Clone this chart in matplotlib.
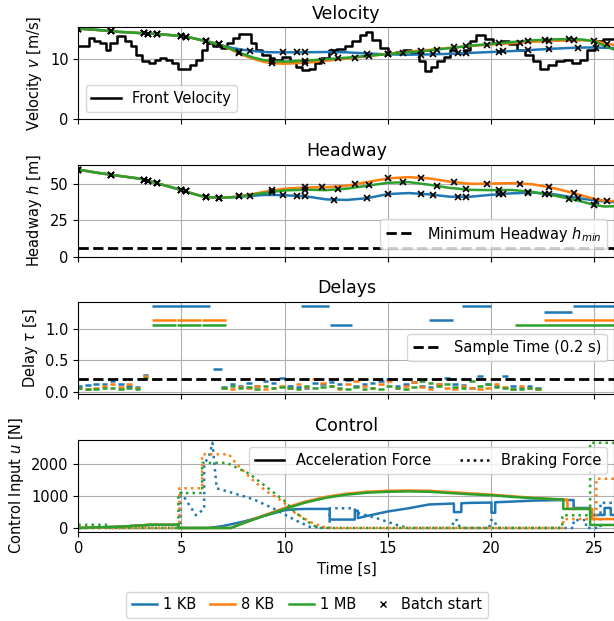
import numpy as np
import matplotlib.pyplot as plt
from matplotlib.lines import Line2D

plt.rcParams['font.size'] = 10.5

# ---- follower curves (velocity, headway), shared time base ----
curve_t = [0, 1, 2, 3, 4, 5, 5.5, 6, 6.5, 7, 7.5, 8, 8.5, 9, 9.5, 10, 11, 12, 13, 14,
           15, 16, 17, 18, 19, 20, 21, 22, 23, 24, 24.5, 25, 25.5, 26]

vel_1kb = [15.05, 14.8, 14.5, 14.3, 14.1, 13.8, 13.5, 13.1, 12.7, 12.2, 11.8, 11.5, 11.3,
           11.15, 11.1, 11.1, 11.1, 11.15, 11.1, 10.9, 10.75, 10.7, 10.75, 10.85, 11.0,
           11.15, 11.3, 11.5, 11.7, 11.85, 11.9, 11.9, 11.85, 11.8]
vel_8kb = [15.05, 14.8, 14.5, 14.3, 14.1, 13.8, 13.5, 13.1, 12.7, 12.2, 11.4, 10.6, 10.0,
           9.5, 9.25, 9.2, 9.35, 9.7, 10.05, 10.45, 10.85, 11.2, 11.5, 11.85, 12.15, 12.4,
           12.6, 12.85, 13.0, 13.1, 13.1, 13.0, 12.6, 12.3]
vel_1mb = [15.05, 14.8, 14.5, 14.3, 14.1, 13.8, 13.5, 13.1, 12.7, 12.2, 11.5, 10.8, 10.2,
           9.8, 9.6, 9.55, 9.7, 9.95, 10.2, 10.5, 10.8, 11.1, 11.4, 11.8, 12.2, 12.5, 12.8,
           13.1, 13.25, 13.3, 13.2, 12.9, 12.2, 11.5]

head_1kb = [59.5, 57.2, 55.2, 53.3, 49.5, 45.5, 43.3, 41.3, 40.5, 40.4, 40.7, 41.2, 41.7,
            42.2, 42.2, 42.0, 41.3, 39.2, 38.8, 40.0, 42.8, 43.5, 42.6, 41.0, 41.0, 42.3,
            43.3, 43.8, 42.8, 40.5, 39.5, 38.5, 37.8, 37.3]
head_8kb = [59.5, 57.2, 55.2, 53.3, 49.5, 45.5, 43.3, 41.3, 40.5, 40.4, 40.8, 41.8, 43.0,
            44.3, 45.5, 46.5, 47.3, 47.5, 48.5, 51.0, 53.5, 54.4, 53.5, 51.3, 49.8, 50.0,
            50.3, 49.5, 47.0, 43.5, 41.5, 39.5, 38.3, 38.0]
head_1mb = [59.5, 57.2, 55.2, 53.3, 49.5, 45.5, 43.3, 41.3, 40.5, 40.4, 40.7, 41.5, 42.5,
            43.5, 44.5, 45.3, 45.8, 45.5, 46.5, 48.5, 50.5, 51.0, 49.2, 47.0, 45.7, 45.5,
            45.6, 44.3, 42.0, 39.0, 37.3, 35.3, 34.3, 34.5]

# batch start times
batch_common = [0, 1.6, 3.2, 3.4, 3.8, 5.0, 5.2, 6.2, 6.8]
batch_1kb = [8.3, 9.9, 10.6, 11.0, 12.4, 14.0, 15.0, 16.6, 17.2, 18.4, 18.8, 20.4, 20.6,
             21.8, 22.8, 24.2, 25.1]
batch_8kb = [7.8, 9.4, 11.0, 11.8, 13.4, 15.0, 16.6, 18.2, 19.8, 21.4, 22.8, 24.0, 25.6]
batch_1mb = [7.8, 9.4, 11.0, 12.6, 14.1, 15.75, 17.4, 18.8, 20.4, 21.8, 22.6, 23.8, 25.0]

# front vehicle velocity (step signal)
front_t = [0, 0.53, 0.76, 1.04, 1.33, 1.56, 1.90, 2.24, 2.56, 2.81, 3.07, 3.42, 3.70, 3.98,
           4.27, 4.55, 4.84, 5.41, 5.69, 5.98, 6.26, 6.55, 6.93, 7.21, 7.50, 7.78, 8.35,
           8.63, 8.92, 9.30, 9.49, 9.87, 10.25, 10.53, 10.82, 11.20, 11.48, 11.76, 12.14,
           12.52, 12.90, 13.28, 13.66, 13.95, 14.23, 14.61, 14.99, 15.37, 15.75, 16.13,
           16.51, 16.79, 17.08, 17.36, 17.74, 18.03, 18.31, 18.69, 18.98, 19.26, 19.73,
           20.11, 20.49, 20.87, 21.25, 21.63, 22.01, 22.39, 22.77, 23.15, 23.53, 23.91,
           24.29, 24.67, 25.05, 25.43, 27.0]
front_v = [12.2, 13.4, 12.9, 12.6, 11.5, 12.6, 13.8, 12.9, 12.1, 10.7, 9.7, 9.3, 9.8, 10.1,
           9.8, 9.3, 8.4, 9.0, 9.8, 11.5, 12.6, 12.1, 11.8, 12.6, 13.5, 14.2, 12.6, 11.5,
           10.7, 10.1, 9.8, 10.4, 9.6, 8.7, 8.1, 8.4, 9.3, 10.1, 11.5, 11.6, 12.1, 12.9,
           13.9, 14.4, 13.2, 11.8, 11.0, 11.2, 11.5, 11.0, 9.6, 8.0, 8.7, 9.6, 10.4, 11.5,
           11.0, 11.5, 12.9, 13.9, 13.3, 12.6, 12.9, 12.4, 11.5, 10.7, 9.6, 8.4, 9.0, 9.6,
           9.8, 9.3, 9.8, 11.5, 12.9, 13.3, 13.3]

h_min = 6.0
sample_time = 0.2

# ---- delays ----
small1_start = -0.1
small2_start = 6.9
slot = 0.4
small1_1kb = [0.10, 0.11, 0.12, 0.13, 0.17, 0.12, 0.09, 0.08, 0.27]
small1_8kb = [0.06, 0.05, 0.06, 0.10, 0.13, 0.08, 0.12, 0.06, 0.25]
small1_1mb = [0.06, 0.05, 0.05, 0.06, 0.07, 0.05, 0.06, 0.05, 0.22]
small2_1kb = [0.08, 0.12, 0.09, 0.14, 0.10, 0.17, 0.14, 0.22, 0.10, 0.08, 0.07, 0.14, 0.12,
              0.16, 0.13, 0.19, 0.09, 0.12, 0.15, 0.18, 0.20, 0.09, 0.13, 0.16, 0.10, 0.08,
              0.13, 0.22, 0.12, 0.11, 0.07, 0.26, 0.12, 0.09, 0.25, 0.10, 0.07, 0.09, 0.06]
small2_8kb = [0.06, 0.04, 0.08, 0.06, 0.10, 0.05, 0.07, 0.09, 0.06, 0.12, 0.08, 0.20, 0.15,
              0.09, 0.05, 0.12, 0.18, 0.10, 0.07, 0.13, 0.18, 0.06, 0.09, 0.16, 0.08, 0.05,
              0.12, 0.06, 0.05, 0.09, 0.06, 0.05, 0.07, 0.13, 0.08, 0.04, 0.10, 0.06, 0.04]
small2_1mb = [0.07, 0.09, 0.06, 0.08, 0.05, 0.09, 0.06, 0.08, 0.07, 0.05, 0.09, 0.06, 0.08,
              0.10, 0.06, 0.05, 0.08, 0.05, 0.07, 0.04, 0.09, 0.06, 0.05, 0.08, 0.18, 0.14,
              0.10, 0.12, 0.08, 0.06, 0.17, 0.10, 0.12, 0.08, 0.06, 0.04, 0.05, 0.06, 0.05]

big_1kb_start = [3.57, 6.5, 10.76, 12.18, 16.98, 18.56, 22.54, 23.95]
big_1kb_end = [6.39, 6.98, 12.18, 13.28, 18.18, 20.02, 23.95, 26.5]
big_1kb_val = [1.35, 0.37, 1.35, 1.05, 1.14, 1.36, 1.26, 1.35]
big_8kb_start = [3.57, 4.74, 5.98, 22.54]
big_8kb_end = [4.74, 5.98, 7.17, 26.5]
big_8kb_val = [1.13, 1.14, 1.13, 1.13]
big_1mb_start = [3.57, 4.74, 5.98, 21.16]
big_1mb_end = [4.74, 5.98, 7.17, 26.5]
big_1mb_val = [1.06, 1.06, 1.05, 1.05]

# ---- control inputs ----
acc_1mb_t = [0, 2, 3.5, 4.85, 4.85, 7.4, 8, 9, 10, 11, 12, 13, 14, 15, 16, 17, 18, 19,
             20, 21, 22, 23, 23.5, 23.5, 24.8, 24.8, 26.5]
acc_1mb_u = [0, 40, 100, 100, 0, 0, 150, 380, 600, 800, 950, 1050, 1110, 1140, 1150, 1140,
             1100, 1060, 1030, 980, 940, 910, 900, 600, 600, 95, 95]
acc_8kb_t = [0, 2, 3.5, 4.85, 4.85, 7.4, 8, 9, 10, 11, 12, 13, 14, 15, 16, 17, 18, 19,
             20, 21, 22, 23, 23.7, 23.7, 24.9, 24.9, 26.5]
acc_8kb_u = [0, 40, 100, 100, 0, 0, 160, 400, 630, 830, 980, 1080, 1140, 1170, 1180, 1170,
             1130, 1090, 1050, 1000, 950, 910, 890, 600, 600, 280, 280]
acc_1kb_t = [0, 2, 3.5, 4.85, 4.85, 6.3, 7, 8, 9, 10, 10.5, 11, 12.18, 12.18, 13.4, 13.4,
             13.55, 13.55, 14, 15, 16, 17, 18.2, 18.2, 18.56, 18.56, 19, 20.02, 20.02,
             20.2, 20.2, 21, 22, 23, 24.0, 24.0, 24.8, 24.8, 25.5, 25.5, 25.8, 25.8, 26.5]
acc_1kb_u = [0, 40, 100, 100, 0, 0, 60, 200, 380, 560, 590, 600, 600, 265, 265, 540, 540,
             310, 380, 520, 620, 740, 770, 500, 500, 780, 790, 800, 480, 480, 810, 830, 860,
             875, 880, 630, 630, 410, 410, 630, 630, 410, 410]

brk_1mb_t = [0, 1.5, 1.5, 4.85, 4.85, 6.0, 6.0, 7.2, 8.3, 9.5, 10.0, 10.5, 11.0, 11.6,
             23.45, 23.45, 24.8, 24.8, 26.5]
brk_1mb_u = [100, 100, 0, 0, 1100, 1100, 2050, 2050, 1700, 1100, 850, 500, 250, 0, 0, 400,
             400, 2680, 2680]
brk_8kb_t = [0, 4.9, 4.9, 6.0, 6.0, 7.3, 7.6, 8.5, 9.1, 9.9, 10.4, 11.2, 11.8, 12.2, 23.5,
             23.5, 25.1, 25.1, 26.5]
brk_8kb_u = [0, 0, 1250, 1250, 2320, 2320, 2060, 1480, 1160, 840, 520, 200, 40, 0, 0, 280,
             280, 1550, 1550]
brk_1kb_t = [0, 4.95, 4.95, 5.3, 5.7, 6.1, 6.1, 6.35, 6.5, 6.7, 6.7, 7.5, 8.5, 9.5, 10.5,
             11.2, 12.18, 12.18, 13.4, 13.4, 14.5, 15.5, 16, 18.1, 18.2, 18.35, 18.5, 19.9,
             20.0, 20.15, 20.3, 24.0, 24.0, 24.6, 24.6, 25.3, 25.3, 26.5]
brk_1kb_u = [0, 0, 1150, 800, 400, 600, 2000, 2300, 2680, 1300, 1250, 1100, 900, 600, 250,
             40, 0, 620, 620, 500, 300, 80, 0, 0, 250, 250, 0, 0, 250, 250, 0, 0, 250, 250,
             0, 0, 790, 790]

colors = ['tab:blue', 'tab:orange', 'tab:green']
names = ['1 KB', '8 KB', '1 MB']

fig = plt.figure(figsize=(6.14, 6.21), dpi=100)
left, width, height = 0.1275, 0.8733, 0.148
bottoms = [0.8084, 0.5866, 0.366, 0.1438]
axes = [fig.add_axes([left, b, width, height]) for b in bottoms]
ax_v, ax_h, ax_d, ax_u = axes

# Velocity
vels = [vel_1kb, vel_8kb, vel_1mb]
heads = [head_1kb, head_8kb, head_1mb]
batches = [batch_1kb, batch_8kb, batch_1mb]
ax_v.step(front_t, front_v, where='post', color='k', lw=1.8, label='Front Velocity')
for vel, head, bt, c in zip(vels, heads, batches, colors):
    tb = np.array(batch_common + bt)
    ax_v.plot(curve_t, vel, color=c, lw=1.8)
    ax_v.plot(tb, np.interp(tb, curve_t, vel), 'x', color='k', ms=5, mew=1.2, zorder=4)
    ax_h.plot(curve_t, head, color=c, lw=1.8)
    ax_h.plot(tb, np.interp(tb, curve_t, head), 'x', color='k', ms=5, mew=1.2, zorder=4)
ax_v.set_title('Velocity', fontsize=12.5)
ax_v.set_ylabel('Velocity $v$ [m/s]')
ax_v.set_ylim(0, 15.3)
ax_v.set_yticks([0, 10])
ax_v.legend(loc='lower left')

# Headway
ax_h.axhline(h_min, color='k', ls='--', lw=2, label='Minimum Headway $h_{min}$')
ax_h.set_title('Headway', fontsize=12.5)
ax_h.set_ylabel('Headway $h$ [m]')
ax_h.set_ylim(0, 62.8)
ax_h.set_yticks([0, 25, 50])
ax_h.legend(loc='lower right')

# Delays
smalls1 = [small1_1kb, small1_8kb, small1_1mb]
smalls2 = [small2_1kb, small2_8kb, small2_1mb]
bigs = [(big_1kb_start, big_1kb_end, big_1kb_val),
        (big_8kb_start, big_8kb_end, big_8kb_val),
        (big_1mb_start, big_1mb_end, big_1mb_val)]
for s1, s2, big, c in zip(smalls1, smalls2, bigs, colors):
    for t0, vals in ((small1_start, s1), (small2_start, s2)):
        ts = t0 + slot * np.arange(len(vals))
        ax_d.hlines(vals, ts + 0.03, ts + slot - 0.1, color=c, lw=1.8)
    ax_d.hlines(big[2], np.array(big[0]) + 0.02, np.array(big[1]) - 0.02, color=c, lw=1.8)
ax_d.axhline(sample_time, color='k', ls='--', lw=2, label='Sample Time (0.2 s)')
ax_d.set_title('Delays', fontsize=12.5)
ax_d.set_ylabel(r'Delay $\tau$ [s]')
ax_d.set_ylim(-0.027, 1.424)
ax_d.set_yticks([0.0, 0.5, 1.0])
ax_d.legend(loc='center right')

# Control
accs = [(acc_1kb_t, acc_1kb_u), (acc_8kb_t, acc_8kb_u), (acc_1mb_t, acc_1mb_u)]
brks = [(brk_1kb_t, brk_1kb_u), (brk_8kb_t, brk_8kb_u), (brk_1mb_t, brk_1mb_u)]
for (ta, ua), (tb_, ub), c in zip(accs, brks, colors):
    ax_u.plot(ta, ua, color=c, lw=1.8)
    ax_u.plot(tb_, ub, color=c, lw=1.8, ls=':')
ctrl_handles = [Line2D([], [], color='k', lw=1.8, label='Acceleration Force'),
                Line2D([], [], color='k', lw=1.8, ls=':', label='Braking Force')]
ax_u.legend(handles=ctrl_handles, loc='upper right', ncol=2)
ax_u.set_title('Control', fontsize=12.5)
ax_u.set_ylabel('Control Input $u$ [N]')
ax_u.set_ylim(-117, 2776)
ax_u.set_yticks([0, 1000, 2000])
ax_u.set_xlabel('Time [s]')

for ax in axes:
    ax.set_xlim(0, 25.98)
    ax.set_xticks([0, 5, 10, 15, 20, 25])
    ax.grid(True)
    if ax is not ax_u:
        ax.tick_params(labelbottom=False)

fig_handles = [Line2D([], [], color=c, lw=1.8, label=n) for c, n in zip(colors, names)]
fig_handles.append(Line2D([], [], color='k', marker='x', ls='none', ms=4, label='Batch start'))
fig.legend(handles=fig_handles, loc='center', bbox_to_anchor=(0.5, 0.026), ncol=4,
           handlelength=1.7, handletextpad=0.4, columnspacing=1.0)

fig.savefig('out.png', dpi=100)
